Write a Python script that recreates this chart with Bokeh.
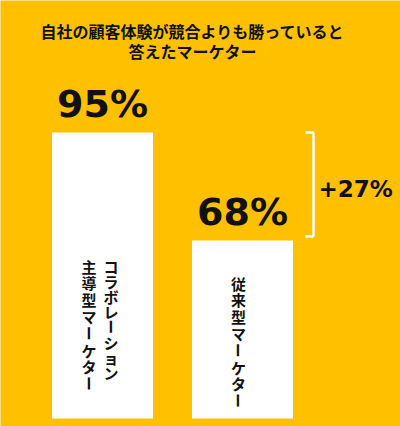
import math
from bokeh.plotting import figure
from bokeh.models import Range1d, ColumnDataSource
from bokeh.core.properties import value
from bokeh.embed import file_html
from bokeh.resources import INLINE

# ---- data ----
title_lines = ["自社の顧客体験が競合よりも勝っていると", "答えたマーケター"]
categories = ["コラボレーション主導型マーケター", "従来型マーケター"]
label_columns = [["コラボレーション", "主導型マーケター"], ["従来型マーケター"]]
values = [95, 68]
value_labels = ["95%", "68%"]

# ---- style ----
W, H = 400, 426
BG = "#FFC000"
INK = "#111111"
PX_X = 140.0          # pixels per category step
X0 = -102.0 / PX_X    # x range start (first bar centred at 102px)
PX_Y = 4.0            # pixels per percentage point
BASE = 23.5           # value at the bars' baseline
BASE_PX = 418.0       # baseline, px from top
Y1 = BASE + BASE_PX / PX_Y
Y0 = Y1 - H / PX_Y
X1 = X0 + W / PX_X


def fx(px):
    return X0 + px / PX_X


def fy(py_from_top):
    return Y1 - py_from_top / PX_Y


p = figure(width=W, height=H, output_backend="svg", toolbar_location=None,
           x_range=Range1d(X0, X1), y_range=Range1d(Y0, Y1),
           min_border=0, min_border_left=0, min_border_right=0,
           min_border_top=0, min_border_bottom=0)
p.background_fill_color = BG
p.border_fill_color = BG
p.outline_line_color = None
p.axis.visible = False
p.grid.visible = False

xs = list(range(len(categories)))
lab_y = [v + 28.5 / PX_Y for v in values]
src = ColumnDataSource(dict(x=xs, top=values, lab=value_labels, laby=lab_y,
                            cat=categories))
p.vbar(x="x", top="top", bottom=BASE, width=101 / PX_X, source=src,
       fill_color="white", line_color=None)

# value labels above bars
p.text(x="x", y="laby", text="lab", source=src,
       text_align="center", text_baseline="middle",
       text_font=value("DejaVu Sans"), text_font_style="bold",
       text_font_size="38px", text_color=INK)

# title
p.text(x=[fx(192)] * 2, y=[fy(30.5), fy(50.5)], text=title_lines,
       text_align="center", text_baseline="middle",
       text_font=value("Noto Sans CJK JP"), text_font_style="bold",
       text_font_size="16px", text_color=INK)

# vertical category labels, one glyph per character
col_offsets = [[8.5, -13.5], [-4]]
col_tops = [258, 275]
col_pitch = [[15.2, 16.8], [16.8]]
FS = 15
cx, cy, ct, ca = [], [], [], []
for i, cols in enumerate(label_columns):
    for j, col in enumerate(cols):
        for k, ch in enumerate(col):
            cx.append(i + col_offsets[i][j] / PX_X)
            cy.append(fy(col_tops[i] + FS / 2 + k * col_pitch[i][j]))
            ct.append(ch)
            ca.append(-math.pi / 2 if ch == "ー" else 0.0)
p.text(x=cx, y=cy, text=ct, angle=ca,
       text_align="center", text_baseline="middle",
       text_font=value("Noto Sans CJK JP"), text_font_size=f"{FS}px",
       text_font_style="bold", text_color=INK)

# difference bracket
hi, lo = max(values), min(values)
bx = 1 + 71 / PX_X
tick = 8 / PX_X
p.segment(x0=[bx, bx - tick, bx - tick], y0=[hi, hi, lo + 1],
          x1=[bx, bx, bx], y1=[lo + 1, hi, lo + 1],
          line_color="white", line_width=2.5)
p.text(x=[bx + 5 / PX_X], y=[(hi + lo) / 2 - 2.5 / PX_Y], text=[f"+{hi - lo}%"],
       text_align="left", text_baseline="middle",
       text_font=value("DejaVu Sans"), text_font_style="bold",
       text_font_size="23px", text_color=INK)

open("out.html", "w").write(file_html(p, INLINE))
